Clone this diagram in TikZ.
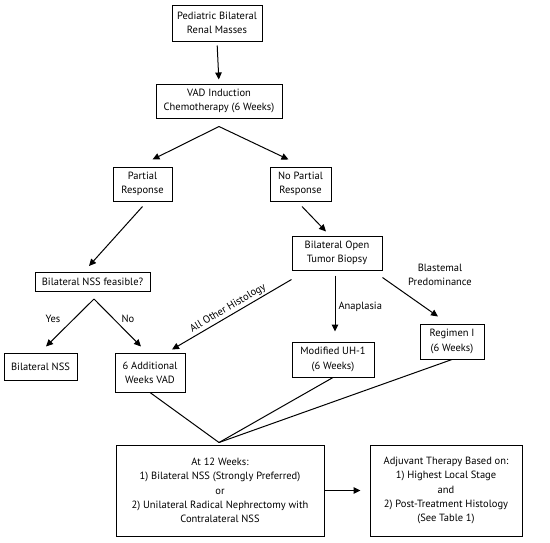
\documentclass[tikz,border=0pt]{standalone}
\usepackage{fontspec}
\setmainfont{PT Sans}
\usetikzlibrary{arrows.meta,calc}
\begin{document}
\begin{tikzpicture}[x=1pt,y=-1pt,
  txt/.style={font=\fontsize{10.5}{14.3}\selectfont},
  box/.style={draw, line width=1pt, align=center, inner sep=0pt, txt},
  arr/.style={line width=1pt, -{Triangle[length=7pt,width=6.5pt]}},
  ln/.style={line width=1pt},
  lbl/.style={txt, align=center, inner sep=1pt}]
\useasboundingbox (0,0) rectangle (550,542);
\node[box, minimum width=90pt, minimum height=36pt] (b1) at (217,23) {Pediatric Bilateral\\Renal Masses};
\node[box, minimum width=126pt, minimum height=34pt] (b2) at (219,101) {VAD Induction\\Chemotherapy (6 Weeks)};
\node[box, minimum width=59pt, minimum height=34pt] (pr) at (142.5,184) {Partial\\Response};
\node[box, minimum width=61pt, minimum height=34pt] (npr) at (300.5,184) {No Partial\\Response};
\node[box, minimum width=115pt, minimum height=19pt] (feas) at (92.5,282) {Bilateral NSS feasible?};
\node[box, minimum width=90pt, minimum height=34pt] (biop) at (337,253) {Bilateral Open\\Tumor Biopsy};
\node[box, minimum width=73pt, minimum height=27pt] (bnss) at (40.5,366.5) {Bilateral NSS};
\node[box, minimum width=70pt, minimum height=39pt] (add) at (150,372.5) {6 Additional\\Weeks VAD};
\node[box, minimum width=82pt, minimum height=35pt] (uh1) at (333,359.5) {Modified UH-1\\(6 Weeks)};
\node[box, minimum width=64pt, minimum height=35pt] (reg) at (452,341.5) {Regimen I\\(6 Weeks)};
\node[box, minimum width=208pt, minimum height=91pt] (w12) at (220,490.5) {At 12 Weeks:\\1) Bilateral NSS (Strongly Preferred)\\or\\2) Unilateral Radical Nephrectomy with\\Contralateral NSS};
\node[box, minimum width=152pt, minimum height=91pt] (adj) at (446,490.5) {Adjuvant Therapy Based on:\\1) Highest Local Stage\\and\\2) Post-Treatment Histology\\(See Table 1)};

\draw[arr, shorten <=4pt, shorten >=4pt] (b1.south) -- (b2.north);
\coordinate (s1) at ([yshift=-8pt]b2.south);
\draw[arr] (s1) -- ([xshift=10pt,yshift=7pt]pr.north);
\draw[arr] (s1) -- ([xshift=-12pt,yshift=7pt]npr.north);
\draw[arr] ([yshift=-5pt]pr.south) -- ([xshift=-3.5pt,yshift=6pt]feas.north);
\draw[arr] ([xshift=1.5pt,yshift=-5pt]npr.south) -- ([xshift=-11pt,yshift=4pt]biop.north);
\coordinate (s2) at ([xshift=1.5pt,yshift=-7pt]feas.south);
\draw[arr] (s2) -- ([xshift=5.5pt,yshift=6pt]bnss.north);
\draw[arr] (s2) -- ([xshift=-9pt,yshift=6pt]add.north);
\node[lbl] (yes) at (53,319) {Yes};
\node[lbl] (no) at (128,319) {No};
\draw[arr] ([yshift=-9pt]biop.south west) -- node[lbl, midway, sloped, above, inner sep=2pt] (aoh) {All Other Histology} ([xshift=22pt,yshift=3pt]add.north);
\draw[arr] ([xshift=-2pt,yshift=-5pt]biop.south) -- node[lbl, midway, right, xshift=2pt, yshift=-3pt] (ana) {Anaplasia} ([xshift=2pt,yshift=10pt]uh1.north);
\draw[arr] ([yshift=-7pt]biop.south east) -- ([xshift=-14pt,yshift=7pt]reg.north);
\node[lbl] (bla) at (440,275) {Blastemal\\Predominance};
\coordinate (apex) at ([xshift=-1pt,yshift=2pt]w12.north);
\draw[ln] (add.south) -- (apex);
\draw[ln] (uh1.south) -- (apex);
\draw[ln] (reg.south) -- (apex);
\draw[arr, shorten >=9pt] (w12.east) -- (adj.west);
\end{tikzpicture}
\end{document}
